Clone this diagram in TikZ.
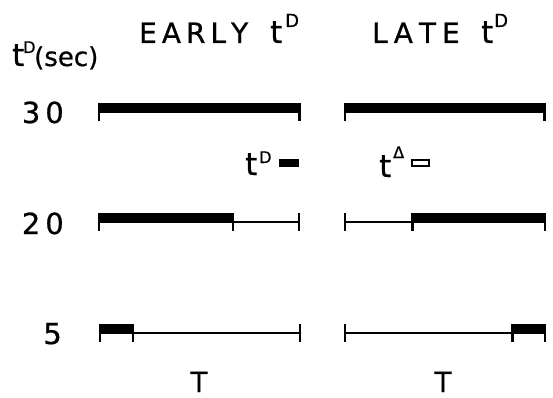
\documentclass[tikz,border=0pt]{standalone}
\usepackage{fontspec}
\setmainfont[FakeBold=0.7]{DejaVu Sans}
\begin{document}
\begin{tikzpicture}[x=1pt,y=-1pt,
  trace/.style={line width=2pt},
  tickline/.style={line width=2.4pt},
  bigtext/.style={inner sep=0pt, font=\fontsize{28}{28}\selectfont},
  ttext/.style={inner sep=0pt, font=\fontsize{31}{31}\selectfont},
  numtext/.style={inner sep=0pt, font=\fontsize{29}{29}\selectfont},
  midtext/.style={inner sep=0pt, font=\fontsize{26}{26}\selectfont},
  suptext/.style={inner sep=0pt, font=\fontsize{18}{18}\selectfont},
  bartop/.style={fill=black}]
\useasboundingbox (0,0) rectangle (553,398);
\newcommand\tk[3]{\draw[tickline] (#1,#2) -- (#1,#3);}
% titles
\node[bigtext, anchor=base west] (early) at (139,43) {E\kern5pt A\kern5pt R\kern5pt L\kern5pt Y};
\node[ttext, anchor=base west] (earlyt) at (270,43) {t};
\node[suptext, anchor=base west] (earlyD) at (285,27) {D};
\node[bigtext, anchor=base west] (late) at (372,43) {L\kern6pt A\kern6pt T\kern6pt E};
\node[ttext, anchor=base west] (latet) at (481,43) {t};
\node[suptext, anchor=base west] (lateD) at (494,27) {D};
% axis label
\node[ttext, anchor=base west] (axt) at (12,66) {t};
\node[suptext, anchor=base west, font=\fontsize{16}{16}\selectfont] (axD) at (23,53) {D};
\node[midtext, anchor=base west] (axsec) at (34,66) {(sec)};
% numbers
\node[numtext, anchor=base east] (n30) at (64,123) {3\kern5pt 0};
\node[numtext, anchor=base east] (n20) at (64,234) {2\kern5pt 0};
\node[numtext, anchor=base east] (n5) at (62,344) {5};
% row 30
\fill[bartop] (97.5,103) rectangle (300.5,113);
\tk{98.7}{103}{121} \tk{299.3}{103}{121}
\fill[bartop] (343.5,103) rectangle (545.5,113);
\tk{344.7}{103}{121} \tk{544.3}{103}{121}
% legend
\node[ttext, anchor=base west] (legt1) at (245,175) {t};
\node[suptext, anchor=base west, font=\fontsize{16}{16}\selectfont] (legD) at (259,163) {D};
\fill[bartop] (279,159) rectangle (299,167);
\node[ttext, anchor=base west] (legt2) at (379,177) {t};
\node[suptext, anchor=base west, font=\fontsize{16}{16}\selectfont] (legDelta) at (393,158) {Δ};
\draw[trace] (412,160) rectangle (429,166);
% row 20
\fill[bartop] (97.5,213) rectangle (233.5,223);
\draw[trace] (233,222) -- (299,222);
\tk{98.7}{213}{231} \tk{233}{213}{231} \tk{299}{213}{231}
\draw[trace] (345,222) -- (412,222);
\fill[bartop] (411.5,213) rectangle (546,223);
\tk{345}{213}{231} \tk{412.5}{213}{231} \tk{545}{213}{231}
% row 5
\fill[bartop] (98.5,324) rectangle (133.5,334);
\draw[trace] (133,333) -- (300,333);
\tk{99.7}{324}{342} \tk{133}{324}{342} \tk{300}{324}{342}
\draw[trace] (345,333) -- (512,333);
\fill[bartop] (511.5,324) rectangle (546,334);
\tk{345}{324}{342} \tk{512.5}{324}{342} \tk{545}{324}{342}
% bottom labels
\node[bigtext, anchor=base] (T1) at (199,392) {T};
\node[bigtext, anchor=base] (T2) at (443,392) {T};
\end{tikzpicture}
\end{document}
